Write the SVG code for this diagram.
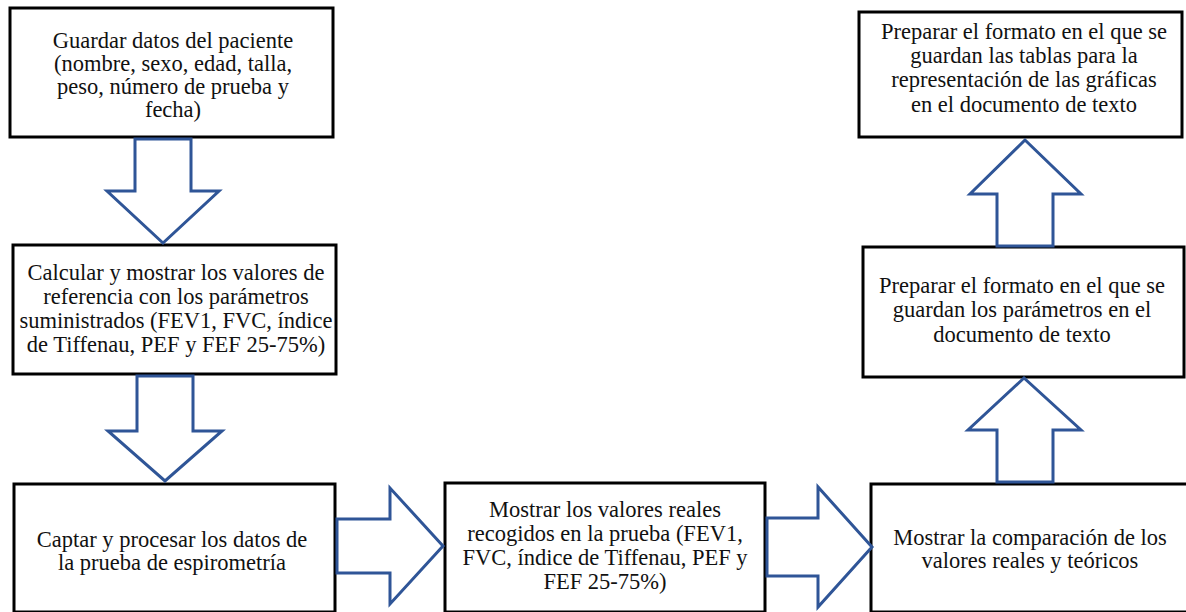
<svg xmlns="http://www.w3.org/2000/svg" width="1186" height="612" viewBox="0 0 1186 612">
<style>
.box{fill:#fff;stroke:#000;stroke-width:3}
.arr{fill:#fff;stroke:#2F5597;stroke-width:3;stroke-linejoin:miter}
text{font-family:'Liberation Serif','Times New Roman','DejaVu Serif',serif;font-size:22.5px;fill:#111;text-anchor:middle}
</style>
<rect width="1186" height="612" fill="#fff"/>
<g font-family="Liberation Serif, Times New Roman, DejaVu Serif, serif">
<g id="n1"><rect class="box" x="10" y="8" width="323" height="129"/>
<text x="173" y="48">Guardar datos del paciente</text>
<text x="173" y="71">(nombre, sexo, edad, talla,</text>
<text x="173" y="94">peso, número de prueba y</text>
<text x="173" y="117">fecha)</text></g>
<g id="n2"><rect class="box" x="13" y="245" width="323" height="129"/>
<text x="176" y="280">Calcular y mostrar los valores de</text>
<text x="176" y="304">referencia con los parámetros</text>
<text x="176" y="328">suministrados (FEV1, FVC, índice</text>
<text x="176" y="352">de Tiffenau, PEF y FEF 25-75%)</text></g>
<g id="n3"><rect class="box" x="14" y="484" width="321" height="128"/>
<text x="172" y="547">Captar y procesar los datos de</text>
<text x="172" y="570">la prueba de espirometría</text></g>
<g id="n4"><rect class="box" x="445" y="483" width="320" height="129"/>
<text x="605" y="517">Mostrar los valores reales</text>
<text x="605" y="541">recogidos en la prueba (FEV1,</text>
<text x="605" y="565">FVC, índice de Tiffenau, PEF y</text>
<text x="605" y="589">FEF 25-75%)</text></g>
<g id="n5"><rect class="box" x="871" y="484" width="322" height="128"/>
<text x="1030" y="545">Mostrar la comparación de los</text>
<text x="1030" y="568">valores reales y teóricos</text></g>
<g id="n6"><rect class="box" x="863" y="247" width="321" height="130"/>
<text x="1022" y="293">Preparar el formato en el que se</text>
<text x="1022" y="317">guardan los parámetros en el</text>
<text x="1022" y="342">documento de texto</text></g>
<g id="n7"><rect class="box" x="859" y="12" width="323" height="125"/>
<text x="1024" y="39">Preparar el formato en el que se</text>
<text x="1024" y="63">guardan las tablas para la</text>
<text x="1024" y="87">representación de las gráficas</text>
<text x="1024" y="112">en el documento de texto</text></g>
</g>
<g id="connectors">
<path class="arr" d="M135,139 L191,139 L191,191 L219,191 L163,243 L107,191 L135,191 Z"/>
<path class="arr" d="M137,376 L193,376 L193,431 L222,431 L165,481 L108,431 L137,431 Z"/>
<path class="arr" d="M337,519 L390,519 L390,488 L443,546 L390,604 L390,573 L337,573 Z"/>
<path class="arr" d="M767,518 L818,518 L818,487 L872,547 L818,607 L818,576 L767,576 Z"/>
<path class="arr" d="M997,482 L997,430 L968,430 L1024,378 L1081,430 L1053,430 L1053,482 Z"/>
<path class="arr" d="M997,246 L997,194 L970,194 L1025,140 L1081,194 L1053,194 L1053,246 Z"/>
</g>
</svg>
